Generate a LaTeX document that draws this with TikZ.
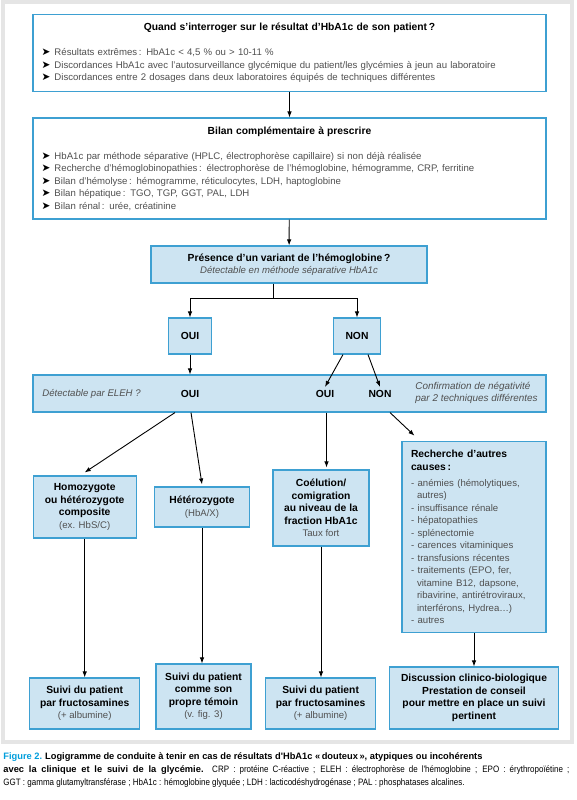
\documentclass[tikz,border=0pt]{standalone}
\usepackage{fontspec}
\setmainfont{Liberation Sans}
\newfontfamily\symfont{DejaVu Sans}
\newfontfamily\capfont[FakeStretch=0.86, BoldFeatures={FakeStretch=1.0}]{Liberation Sans}
\usetikzlibrary{calc,arrows.meta}
\definecolor{boxblue}{RGB}{62,160,210}
\definecolor{boxfill}{RGB}{205,228,242}
\definecolor{capblue}{RGB}{0,158,220}
\definecolor{txtgray}{RGB}{80,80,80}
\newcommand{\txt}{\fontsize{9.6}{12.5}\selectfont}
\newcommand{\btxt}{\fontsize{10.3}{12.5}\selectfont}
\newcommand{\puce}{\makebox[13pt][l]{\symfont\fontsize{10.5}{12.5}\selectfont\color{black}➤}}
\newcommand{\sub}[1]{{\txt\mdseries\color{txtgray}#1}}
\tikzset{
  >={Latex[length=6pt,width=4.5pt]},
  frame/.style={draw=boxblue, line width=1.1pt, fill=white, minimum width=513pt,
    text width=496pt, inner sep=8.5pt, align=left, font=\txt\color{txtgray}},
  bluebox/.style={draw=boxblue, line width=1.1pt, fill=boxfill, align=center,
    inner sep=2pt, font=\btxt\bfseries},
  lbl/.style={inner sep=3pt, font=\btxt\bfseries},
}
\begin{document}
\begin{tikzpicture}[x=1pt, y=-1pt, line width=0.9pt]
\useasboundingbox (0,0) rectangle (577,800);
\fill[white] (0,0) rectangle (577,800);
\draw[black!10, line width=4pt] (3,2) rectangle (572,742);
% questions and bilan
\node[frame, minimum height=76pt] (quand) at (289.5,53) {%
{\centering\btxt\bfseries\color{black} Quand s'interroger sur le résultat d'HbA1c de son patient\,?\par}\vspace{12.5pt}
\puce Résultats extrêmes\,: HbA1c < 4,5 \% ou > 10-11 \%\\
\puce Discordances HbA1c avec l'autosurveillance glycémique du patient/les glycémies à jeun au laboratoire\\
\puce Discordances entre 2 dosages dans deux laboratoires équipés de techniques différentes};
\node[frame, minimum height=101pt] (bilan) at (289.5,168.5) {%
{\centering\btxt\bfseries\color{black} Bilan complémentaire à prescrire\par}\vspace{12.5pt}
\puce HbA1c par méthode séparative (HPLC, électrophorèse capillaire) si non déjà réalisée\\
\puce Recherche d'hémoglobinopathies\,: électrophorèse de l'hémoglobine, hémogramme, CRP, ferritine\\
\puce Bilan d'hémolyse\,: hémogramme, réticulocytes, LDH, haptoglobine\\
\puce Bilan hépatique\,: TGO, TGP, GGT, PAL, LDH\\
\puce Bilan rénal\,: urée, créatinine};
% variant
\node[bluebox, minimum width=276pt, minimum height=37pt] (variant) at (289,264.5)
  {Présence d'un variant de l'hémoglobine\,?\\ \sub{\itshape Détectable en méthode séparative HbA1c}};
\node[bluebox, minimum width=43pt, minimum height=36pt] (oui) at (190,336) {OUI};
\node[bluebox, minimum width=47pt, minimum height=36pt] (non) at (357,336) {NON};
\coordinate (fork) at (273,298);
% ELEH band
\node[bluebox, minimum width=513pt, minimum height=37pt] (eleh) at (289.5,393.5) {};
\node[lbl, anchor=west] (detect) at (39,394) {\sub{\itshape Détectable par ELEH ?}};
\node[lbl] (oui1) at (190,394) {OUI};
\node[lbl] (oui2) at (325,394) {OUI};
\node[lbl] (non2) at (380,394) {NON};
\node[lbl, anchor=west, align=left, font=\fontsize{9.9}{12.5}\selectfont\itshape\color{txtgray}] (confirm) at (412,393)
  {Confirmation de négativité\\par 2 techniques différentes};
% results
\node[bluebox, minimum width=103pt, minimum height=62pt] (homo) at (84.7,507)
  {Homozygote\\ou hétérozygote\\composite\\\sub{(ex. HbS/C)}};
\node[bluebox, minimum width=95pt, minimum height=40pt] (hetero) at (202,507)
  {Hétérozygote\\\sub{(HbA/X)}};
\node[bluebox, minimum width=96pt, minimum height=76pt] (coel) at (321,508)
  {Coélution/\\comigration\\au niveau de la\\fraction HbA1c\\\sub{Taux fort}};
\node[bluebox, minimum width=144pt, minimum height=190pt, text width=126pt, align=left, inner sep=9pt] (autres) at (474,537)
  {Recherche d’autres\\causes\,:\\[3.5pt]
  \sub{- anémies (hémolytiques,}\\\sub{\hspace*{6pt}autres)}\\\sub{- insuffisance rénale}\\
  \sub{- hépatopathies}\\\sub{- splénectomie}\\\sub{- carences vitaminiques}\\
  \sub{- transfusions récentes}\\\sub{- traitements (EPO, fer,}\\
  \sub{\hspace*{6pt}vitamine B12, dapsone,}\\\sub{\hspace*{6pt}ribavirine, antirétroviraux,}\\
  \sub{\hspace*{6pt}interférons, Hydrea…)}\\\sub{- autres}};
% suivi
\node[bluebox, minimum width=110pt, minimum height=51pt] (suiviA) at (84.7,703.5)
  {Suivi du patient\\par fructosamines\\\sub{(+ albumine)}};
\node[bluebox, minimum width=95pt, minimum height=65pt] (temoin) at (203.5,696.5)
  {Suivi du patient\\comme son\\propre témoin\\\sub{(v. fig. 3)}};
\node[bluebox, minimum width=110pt, minimum height=51pt] (suiviC) at (320.6,703.5)
  {Suivi du patient\\par fructosamines\\\sub{(+ albumine)}};
\node[bluebox, minimum width=169pt, minimum height=62pt] (discu) at (474,698)
  {Discussion clinico-biologique\\Prestation de conseil\\pour mettre en place un suivi\\pertinent};
% caption
\node[anchor=north west, inner sep=0pt, align=left, font=\capfont\fontsize{9.3}{13}\selectfont] (caption) at (3,752)
  {\textbf{\color{capblue}Figure 2.} \textbf{Logigramme de conduite à tenir en cas de résultats d'HbA1c «\,douteux\,», atypiques ou incohérents}\\
  \hbox to 566pt{\textbf{avec la clinique et le suivi de la glycémie.} CRP : protéine C-réactive ; ELEH : électrophorèse de l'hémoglobine ; EPO : érythropoïétine ;}\\
  GGT : gamma glutamyltransférase ; HbA1c : hémoglobine glyquée ; LDH : lacticodéshydrogénase ; PAL : phosphatases alcalines.};
% connectors
\draw [->] (quand) -- (bilan);
\draw [->] (bilan) -- (variant);
\draw (variant.south -| fork) -- (fork);
\draw [->] (fork) -| (oui);
\draw [->] (fork) -| (non);
\draw [->] (oui) -- (oui |- eleh.north);
\draw [->] ([xshift=-14pt]non.south) -- (oui2.north);
\draw [->] ([xshift=11pt]non.south) -- (non2.north);
\draw [->] ($(eleh.south -| oui1)+(-15,0)$) -- ($(homo.north)+(0,-3)$);
\draw [->] ($(eleh.south -| oui1)+(1,0)$) -- ($(hetero.north)+(0,-2)$);
\draw [->] ($(eleh.south -| oui2)+(1.5,0)$) -- ($(coel.north -| oui2)+(1.5,-2)$);
\draw [->] ($(eleh.south -| non2)+(10,0)$) -- ($(autres.north west)+(13,-5)$);
\draw [->] (homo) -- (homo |- suiviA.north);
\draw [->] (hetero) -- (hetero |- temoin.north);
\draw [->] (coel) -- (coel |- suiviC.north);
\draw [->] (autres) -- (autres |- discu.north);
\end{tikzpicture}
\end{document}
